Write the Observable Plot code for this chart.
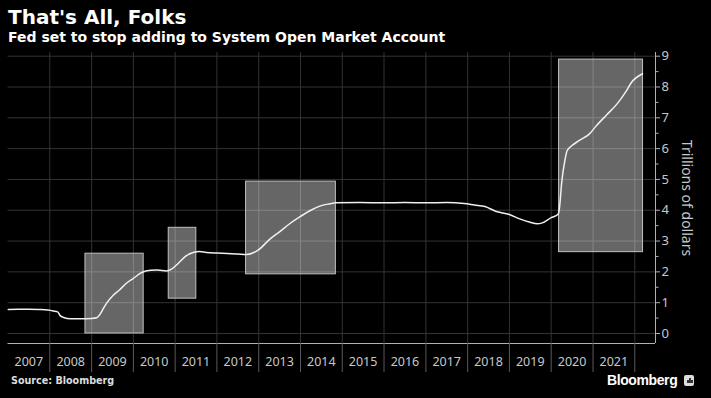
<!DOCTYPE html>
<html>
<head>
<meta charset="utf-8">
<script src="https://cdn.jsdelivr.net/npm/d3@7"></script>
<script src="https://cdn.jsdelivr.net/npm/@observablehq/plot@0.6"></script>
<style>
  html, body { margin: 0; padding: 0; background: #000; }
  #wrap { position: relative; width: 711px; height: 398px; background: #000; overflow: hidden; }
  #title { position: absolute; left: 8px; top: 5px; font: bold 20px "DejaVu Sans", sans-serif; color: #fff; line-height: 24px; white-space: nowrap; }
  #subtitle { position: absolute; left: 8px; top: 28px; font: bold 14px "DejaVu Sans", sans-serif; color: #fff; line-height: 18px; white-space: nowrap; }
  #chart { position: absolute; left: 0; top: 0; }
  #source { position: absolute; left: 11px; top: 375px; font: bold 9.6px "DejaVu Sans", sans-serif; color: #ddd; line-height: 12px; white-space: nowrap; }
  #logo { position: absolute; left: 607px; top: 371px; font: bold 14px "Liberation Sans", Arial, sans-serif; color: #fff; line-height: 18px; white-space: nowrap; letter-spacing: -0.4px; }
  #logo .icon { display: inline-block; width: 10px; height: 11px; background: #ddd; border-radius: 2px; margin-left: 7px; vertical-align: -1px; position: relative; }
  #logo .icon i { position: absolute; bottom: 3px; width: 1.5px; background: #333; }
</style>
</head>
<body>
<div id="wrap">
  <div id="title">That's All, Folks</div>
  <div id="subtitle">Fed set to stop adding to System Open Market Account</div>
  <div id="chart"></div>
  <div id="source">Source: Bloomberg</div>
  <div id="logo">Bloomberg<span class="icon"><i style="left:3px;height:3px"></i><i style="left:5px;height:5px"></i><i style="left:7px;height:3px"></i></span></div>
</div>
<script>
// SOMA holdings, trillions of dollars
const dates = [
  "2007-01-03","2007-04-01","2007-07-01","2007-10-01","2007-12-15","2008-02-01","2008-03-10","2008-04-01",
  "2008-05-01","2008-07-01","2008-10-01","2009-01-01","2009-02-15","2009-03-15","2009-04-15","2009-05-15",
  "2009-07-01","2009-09-01","2009-11-01","2010-01-01","2010-03-15","2010-06-01","2010-08-01","2010-10-15",
  "2010-12-01","2011-02-01","2011-04-01","2011-06-15","2011-08-01","2011-10-01","2012-01-01","2012-04-01",
  "2012-07-01","2012-09-15","2012-11-15","2013-01-01","2013-04-01","2013-07-01","2013-10-01","2014-01-01",
  "2014-04-01","2014-07-01","2014-09-15","2014-11-01","2015-06-01","2016-01-01","2016-07-01","2017-01-01",
  "2017-07-01","2017-12-01","2018-03-01","2018-06-01","2018-09-01","2019-01-01","2019-04-01","2019-07-01",
  "2019-09-01","2019-10-15","2020-01-01","2020-03-01","2020-03-15","2020-04-01","2020-05-01","2020-05-20",
  "2020-07-01","2020-09-01","2020-12-01","2021-02-01","2021-05-01","2021-08-01","2021-10-15","2021-12-01",
  "2022-03-10"
];
const values = [
  0.78,0.79,0.79,0.78,0.76,0.73,0.70,0.58,
  0.52,0.48,0.48,0.49,0.51,0.62,0.82,1.00,
  1.21,1.41,1.63,1.79,1.98,2.05,2.06,2.03,
  2.09,2.29,2.50,2.64,2.66,2.63,2.61,2.60,
  2.58,2.56,2.62,2.72,3.04,3.30,3.57,3.80,
  4.00,4.15,4.21,4.24,4.25,4.24,4.25,4.24,
  4.25,4.22,4.17,4.12,3.97,3.86,3.72,3.61,
  3.56,3.59,3.76,3.87,4.12,4.86,5.64,5.94,
  6.10,6.26,6.48,6.75,7.10,7.46,7.85,8.14,
  8.43
];
// QE programme highlight boxes
const boxStart = ["2008-11-08","2010-11-06","2012-09-12","2020-03-10"];
const boxEnd   = ["2010-04-01","2011-07-05","2014-11-06","2022-03-14"];
const boxLow   = [0, 1.13, 1.92, 2.64];
const boxHigh  = [2.59, 3.43, 4.93, 8.89];
const years = d3.range(2007, 2022);
const yTicks = d3.range(0, 10);

const series = dates.map((d, i) => ({date: new Date(d), value: values[i]}));
const boxes = boxStart.map((d, i) => ({x1: new Date(boxStart[i]), x2: new Date(boxEnd[i]), y1: boxLow[i], y2: boxHigh[i]}));
const boundaries = d3.range(2008, 2023).map(y => new Date(`${y}-01-01`));
const mids = years.map(y => ({date: new Date(`${y}-07-02`), label: String(y)}));

const yLo = -0.325, yHi = 9.12;
const tickFont = "Noto Sans, sans-serif";

const chart = Plot.plot({
  width: 711,
  height: 398,
  marginLeft: 7.5,
  marginRight: 56,
  marginTop: 52,
  marginBottom: 55,
  style: {background: "transparent", color: "#ccc", fontFamily: tickFont},
  x: {type: "utc", domain: [new Date("2007-01-01"), new Date("2022-07-01")], axis: null},
  y: {domain: [yLo, yHi], axis: null},
  marks: [
    Plot.ruleY(yTicks, {stroke: "#333", strokeWidth: 1}),
    Plot.ruleX(boundaries, {y1: yLo, y2: yHi, stroke: "#333", strokeWidth: 1}),
    Plot.rect(boxes, {x1: "x1", x2: "x2", y1: "y1", y2: "y2", fill: "white", fillOpacity: 0.4, stroke: "#c0c0c0", strokeWidth: 1}),
    Plot.line(series, {x: "date", y: "value", stroke: "#f0f0f0", strokeWidth: 1.5, curve: "monotone-x"}),
    Plot.ruleY([yLo], {stroke: "#b0b0b0", strokeWidth: 1}),
    Plot.ruleX([new Date("2022-07-01")], {y1: yLo, y2: yHi, stroke: "#b0b0b0", strokeWidth: 1}),
    Plot.ruleX(boundaries, {y1: yLo, y2: yLo - 29 / 30.8, stroke: "#5a5a5a", strokeWidth: 1}),
    Plot.text(mids, {x: "date", text: "label", frameAnchor: "bottom", dy: 22, fill: "#c8c8c8", fontSize: 12.5, fontFamily: tickFont}),
    Plot.axisY(yTicks, {anchor: "right", tickSize: 4, tickPadding: 2, tickFormat: d => String(d), label: null, stroke: "#b0b0b0", fill: "#c8c8c8", fontSize: 13, fontFamily: tickFont}),
    Plot.axisY(d3.range(0.5, 9, 1), {anchor: "right", tickSize: 2.5, text: null, label: null, stroke: "#b0b0b0"}),
    Plot.text(["Trillions of dollars"], {frameAnchor: "right", dx: 31, rotate: 90, textAnchor: "middle", fill: "#c8c8c8", fontSize: 14, fontFamily: tickFont})
  ]
});
document.getElementById("chart").appendChild(chart);
</script>
</body>
</html>
